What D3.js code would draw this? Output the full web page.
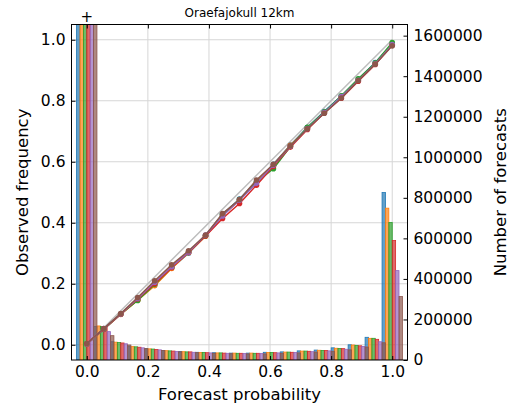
<!DOCTYPE html>
<html>
<head>
<meta charset="utf-8">
<script src="https://cdn.jsdelivr.net/npm/d3@7"></script>
<style>
  body { margin: 0; background: #fff; }
  svg text { font-family: "DejaVu Sans", sans-serif; fill: #000; }
</style>
</head>
<body>
<svg width="517" height="408"></svg>
<script>
// forecast probability bins (k/18)
const probs = d3.range(19).map((k) => k / 18);
const seriesNames = ["s1", "s2", "s3", "s4", "s5", "s6"];
const colors = ["#1f77b4", "#ff7f0e", "#2ca02c", "#d62728", "#9467bd", "#8c564b"];

// observed frequency per series
const obs1 = [0.002, 0.050, 0.100, 0.148, 0.195, 0.252, 0.300, 0.358, 0.428, 0.478, 0.535, 0.592, 0.655, 0.712, 0.765, 0.815, 0.870, 0.925, 0.986];
const obs2 = [0.002, 0.051, 0.099, 0.146, 0.194, 0.250, 0.302, 0.356, 0.424, 0.474, 0.533, 0.590, 0.654, 0.710, 0.762, 0.812, 0.868, 0.922, 0.985];
const obs3 = [0.003, 0.052, 0.101, 0.145, 0.198, 0.254, 0.305, 0.357, 0.426, 0.476, 0.534, 0.577, 0.650, 0.713, 0.763, 0.816, 0.872, 0.924, 0.991];
const obs4 = [0.003, 0.052, 0.100, 0.150, 0.200, 0.253, 0.303, 0.357, 0.414, 0.463, 0.523, 0.585, 0.648, 0.706, 0.760, 0.808, 0.864, 0.919, 0.982];
const obs5 = [0.003, 0.053, 0.101, 0.152, 0.205, 0.256, 0.304, 0.360, 0.422, 0.474, 0.530, 0.589, 0.651, 0.709, 0.761, 0.814, 0.867, 0.921, 0.984];
const obs6 = [0.004, 0.053, 0.102, 0.155, 0.210, 0.262, 0.308, 0.360, 0.430, 0.476, 0.540, 0.592, 0.652, 0.708, 0.759, 0.809, 0.866, 0.920, 0.980];

// number of forecasts per series
const cnt1 = [9000000, 165000, 90000, 68000, 56000, 47000, 42000, 38000, 36000, 34000, 34000, 38000, 40000, 45000, 49000, 60000, 75000, 112000, 826000];
const cnt2 = [9000000, 168000, 88000, 66000, 55000, 46000, 41000, 37000, 35000, 34000, 34000, 37000, 39000, 44000, 48000, 58000, 74000, 107000, 749000];
const cnt3 = [9000000, 165000, 86000, 65000, 54000, 45000, 40000, 37000, 35000, 33000, 33000, 37000, 39000, 44000, 47000, 57000, 72000, 107000, 678000];
const cnt4 = [9000000, 160000, 84000, 63000, 52000, 44000, 40000, 36000, 34000, 33000, 33000, 36000, 38000, 43000, 47000, 56000, 70000, 102000, 589000];
const cnt5 = [9000000, 140000, 80000, 60000, 50000, 42000, 38000, 35000, 33000, 32000, 32000, 35000, 37000, 41000, 45000, 53000, 67000, 90000, 441000];
const cnt6 = [9000000, 120000, 74000, 56000, 47000, 40000, 36000, 33000, 31000, 30000, 30000, 33000, 35000, 39000, 43000, 50000, 64000, 85000, 313000];

const xTicks = [0, 0.2, 0.4, 0.6, 0.8, 1.0];
const yTicks = [0, 0.2, 0.4, 0.6, 0.8, 1.0];
const countTicks = [0, 200000, 400000, 600000, 800000, 1000000, 1200000, 1400000, 1600000];

const obs = [obs1, obs2, obs3, obs4, obs5, obs6];
const cnts = [cnt1, cnt2, cnt3, cnt4, cnt5, cnt6];

const L = 71.5, R = 407.5, T = 24.5, B = 360;
const svg = d3.select("svg");

const x = d3.scaleLinear().domain([-0.05, 1.05]).range([L, R]);
const y = d3.scaleLinear().domain([-0.05, 1.05]).range([B, T]);
const y2 = d3.scaleLinear().domain([0, 1655000]).range([B, T]);

svg.append("defs").append("clipPath").attr("id", "clip")
  .append("rect").attr("x", L).attr("y", T).attr("width", R - L).attr("height", B - T);

// grid
const grid = svg.append("g").attr("stroke", "#d6d6d6").attr("stroke-width", 1);
grid.selectAll(".gx").data(xTicks).enter().append("line")
  .attr("x1", (d) => x(d)).attr("x2", (d) => x(d)).attr("y1", T).attr("y2", B);
grid.selectAll(".gy").data(yTicks).enter().append("line")
  .attr("y1", (d) => y(d)).attr("y2", (d) => y(d)).attr("x1", L).attr("x2", R);

// bars
const bw = 0.0111;
const plot = svg.append("g").attr("clip-path", "url(#clip)");
cnts.forEach((c, i) => {
  plot.append("g").selectAll("rect").data(c).enter().append("rect")
    .attr("x", (d, k) => x(probs[k] + (i - 3) * bw))
    .attr("width", x(bw) - x(0))
    .attr("y", (d) => y2(d))
    .attr("height", (d) => B - y2(d))
    .attr("fill", colors[i]).attr("fill-opacity", 0.7)
    .attr("stroke", colors[i]).attr("stroke-width", 0.8);
});

// perfect reliability
plot.append("line")
  .attr("x1", x(0)).attr("y1", y(0)).attr("x2", x(1)).attr("y2", y(1))
  .attr("stroke", "#bdbdbd").attr("stroke-width", 1.5);

// reliability curves
const line = d3.line().x((d, k) => x(probs[k])).y((d) => y(d));
obs.forEach((o, i) => {
  plot.append("path").datum(o).attr("d", line)
    .attr("fill", "none").attr("stroke", colors[i]).attr("stroke-width", 1.5);
  plot.append("g").selectAll("circle").data(o).enter().append("circle")
    .attr("cx", (d, k) => x(probs[k])).attr("cy", (d) => y(d)).attr("r", 2.8)
    .attr("fill", colors[i]);
});

// frame
svg.append("rect").attr("x", L).attr("y", T).attr("width", R - L).attr("height", B - T)
  .attr("fill", "none").attr("stroke", "#000").attr("stroke-width", 1);

// axes
const axStyle = (g) => {
  g.select(".domain").remove();
  g.selectAll("text").attr("font-size", 15.5).style("font-family", "DejaVu Sans");
};
svg.append("g").attr("transform", `translate(0,${B})`)
  .call(d3.axisBottom(x).tickValues(xTicks).tickFormat(d3.format(".1f")).tickSize(-4).tickPadding(6))
  .call(axStyle);
svg.append("g").attr("transform", `translate(0,${T})`)
  .call(d3.axisTop(x).tickValues(xTicks).tickFormat("").tickSize(-4))
  .call(axStyle);
svg.append("g").attr("transform", `translate(${L},0)`)
  .call(d3.axisLeft(y).tickValues(yTicks).tickFormat(d3.format(".1f")).tickSize(-4).tickPadding(6))
  .call(axStyle);
svg.append("g").attr("transform", `translate(${R},0)`)
  .call(d3.axisRight(y2).tickValues(countTicks).tickFormat(d3.format("d")).tickSize(-4).tickPadding(6))
  .call(axStyle);

// labels
svg.append("text").attr("x", (L + R) / 2).attr("y", 17).attr("text-anchor", "middle")
  .attr("font-size", 12).text("Oraefajokull 12km");
svg.append("text").attr("x", x(0)).attr("y", 22).attr("text-anchor", "middle")
  .attr("font-size", 15).text("+");
svg.append("text").attr("x", (L + R) / 2).attr("y", 400).attr("text-anchor", "middle")
  .attr("font-size", 16.5).text("Forecast probability");
svg.append("text").attr("transform", `translate(28,${(T + B) / 2}) rotate(-90)`)
  .attr("text-anchor", "middle").attr("font-size", 16.5).text("Observed frequency");
svg.append("text").attr("transform", `translate(506,${(T + B) / 2}) rotate(-90)`)
  .attr("text-anchor", "middle").attr("font-size", 16.5).text("Number of forecasts");
</script>
</body>
</html>
